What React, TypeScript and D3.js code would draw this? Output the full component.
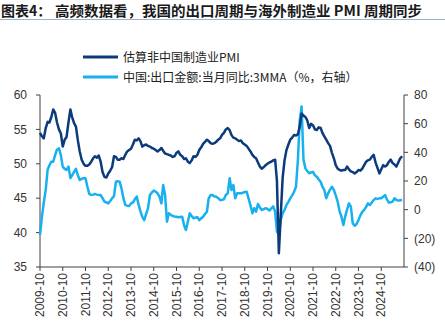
import React from "react";
import * as d3 from "d3";

// 估算非中国制造业PMI (monthly, 2009-10 .. 2025-09)
const pmi: number[] = [
  54.5, 54.0, 53.7, 55.2, 56.1, 56.0, 56.8, 57.9, 57.4, 56.0, 55.0, 54.4,
  52.5, 53.5, 53.9, 56.0, 57.9, 56.8, 55.9, 55.4, 53.4, 51.8, 50.6, 50.0,
  49.7, 49.7, 49.9, 50.3, 50.8, 51.1, 50.9, 51.2, 50.3, 48.8, 48.1, 48.0,
  48.6, 49.0, 49.5, 51.1, 51.0, 50.6, 50.6, 50.8, 50.7, 51.3, 51.8, 52.0,
  52.2, 52.8, 53.5, 53.4, 53.7, 53.3, 52.5, 52.7, 52.8, 52.6, 52.5, 52.3,
  52.2, 52.0, 51.8, 52.0, 52.3, 51.9, 51.5, 51.4, 51.3, 51.2, 51.0, 51.1,
  51.6, 51.8, 51.3, 51.1, 50.7, 50.8, 50.3, 50.1, 50.5, 51.1, 51.0, 51.3,
  52.0, 52.4, 52.9, 53.2, 53.5, 53.3, 53.0, 52.9, 53.0, 53.2, 53.5, 53.7,
  54.2, 54.5, 55.0, 55.2, 54.9, 54.2, 53.8, 53.7, 53.5, 53.3, 53.4, 53.0,
  52.8, 52.6, 52.2, 51.8, 51.3, 51.0, 50.8, 50.2, 49.6, 49.3, 49.5, 49.8,
  50.0, 50.2, 50.3, 50.5, 50.6, 47.5, 37.0, 42.5, 48.0, 50.5, 52.0, 52.8,
  53.5, 53.8, 54.2, 54.1, 54.3, 55.4, 57.3, 57.0, 56.8, 56.3, 55.2, 55.8,
  55.6, 55.0, 54.9, 55.3, 55.2, 54.5, 54.0, 53.5, 53.0, 52.6, 51.6, 50.8,
  49.8, 49.3, 49.1, 49.0, 49.1, 49.1, 49.6, 49.2, 48.9, 48.8, 48.6, 48.8,
  49.1, 49.0, 49.3, 49.8, 50.3, 50.5, 50.6, 51.0, 51.3, 50.2, 49.4, 48.6,
  49.2, 49.8, 49.6, 49.8, 50.3, 50.6, 50.1, 49.9, 49.6, 50.2, 50.8, 51.1,
];

// 中国:出口金额:当月同比:3MMA (%, right axis)
const exportsYoY: number[] = [
  -17.5, -5, 5, 14, 28, 31, 33.5, 33.5, 38, 42, 42.8, 38,
  30, 28.5, 27.7, 30, 22, 24, 26.4, 28.5, 24, 20.7, 21.5, 22,
  21.9, 16, 11, 10.2, 10.5, 10.9, 10.5, 10.2, 10.2, 8, 5.6, 5.0,
  4.4, 6, 7.9, 9.5, 19.5, 19.8, 19.5, 15, 8, 3.3, 2.8, 2.6,
  4.4, 5, 7.2, 9.1, 3.3, -1, -5, -7.3, -3, 1, 10.2, 12,
  13.3, 12.5, 11.4, 9.1, 4.4, 17.2, 10.2, -8.4, -2.5, -3.5, -4.4, -4.8,
  -5, -5.3, -5.1, -4.9, -11, -14.2, -8.4, -2.5, -4.5, -6, -5.5, -5.3,
  -7.3, -6, -4.9, -3, -1.4, 7.9, 10.2, 10.2, 9.1, 9.1, 8, 6.7,
  6.8, 7.2, 10.2, 11.4, 22, 13.7, 17.2, 7.9, 11.4, 11.4, 11.4, 11.8,
  12.3, 12.5, 7.9, 3, -2.5, 1, -1.4, 4, 1.5, -0.2, 0.3, 1,
  0.5, -0.6, 0.8, 2.3, -1.4, -15.4, -17, -7.3, -2.5, -0.2, 3.3, 5.5,
  7.9, 10, 12.5, 16, 35, 62, 72, 35, 28.8, 27, 25.4, 26,
  26.4, 24, 23, 21, 19.5, 16, 13.7, 7.9, 11.4, 14, 16, 13.7,
  10, 5.6, -1, -4.9, -10.7, -4.9, 0, 4.4, 2.1, -9.6, -11.2, -10,
  -7.3, -4, -1.5, -0.2, 2, 4.4, 3.3, 5, 6.7, 7.9, 7.5, 7.9,
  7.9, 9, 10.2, 7, 4.9, 5.2, 5.6, 7.9, 6.8, 6.3, 6.5, 6.7,
];

const leftTicks: number[] = [35, 40, 45, 50, 55, 60];
const rightTicks: number[] = [-40, -20, 0, 20, 40, 60, 80];
const xTickLabels: string[] = [
  "2009-10", "2010-10", "2011-10", "2012-10", "2013-10", "2014-10", "2015-10", "2016-10",
  "2017-10", "2018-10", "2019-10", "2020-10", "2021-10", "2022-10", "2023-10", "2024-10",
];
const legendLabels: string[] = ["估算非中国制造业PMI", "中国:出口金额:当月同比:3MMA（%，右轴）"];
const titleLead = "图表4：";
const titleRest = "高频数据看，我国的出口周期与海外制造业 PMI 周期同步";

const DARK = "#0c3b7c";
const LIGHT = "#18b0ef";
const AXIS = "#404040";
const FONT = "'Liberation Sans', Arial, sans-serif";
const CJK = "'Noto Sans CJK SC', 'Liberation Sans', sans-serif";

export default function App() {
  const W = 445, H = 326;
  const left = 40, right = 404, top = 95, bottom = 267;

  const monthDate = (i: number) => new Date(2009, 9 + i, 1);
  const x = d3.scaleTime().domain([new Date(2009, 9, 1), new Date(2025, 9, 1)]).range([left, right]);
  const yL = d3.scaleLinear().domain([35, 60]).range([bottom, top]);
  const yR = d3.scaleLinear().domain([-40, 80]).range([bottom, top]);

  const lineL = d3.line<number>().x((_, i) => x(monthDate(i))).y((d) => yL(d));
  const lineR = d3.line<number>().x((_, i) => x(monthDate(i))).y((d) => yR(d));

  const xTicks = xTickLabels.map((lab) => {
    const [yy, mm] = lab.split("-").map(Number);
    return { lab, pos: x(new Date(yy, mm - 1, 1)) };
  });

  const fmtR = (v: number) => (v < 0 ? `(${Math.abs(v)})` : `${v}`);

  return (
    <svg width={W} height={H} style={{ position: "absolute", left: 0, top: 0, background: "#fff" }}>
      <rect x={0} y={0} width={W} height={H} fill="#fff" />
      {/* title */}
      <text x={1} y={16} fontFamily={CJK} fontWeight="bold" fontSize={14} fill="#1a1a1a">{titleLead}</text>
      <text x={55} y={16} fontFamily={CJK} fontWeight="bold" fontSize={14} fill="#1a1a1a" textLength={367} lengthAdjust="spacingAndGlyphs">{titleRest}</text>
      <line x1={0} x2={W} y1={19.5} y2={19.5} stroke="#9fb3cc" strokeWidth={1} />

      {/* legend */}
      <line x1={83} x2={118} y1={57} y2={57} stroke={DARK} strokeWidth={3} />
      <text x={123} y={61.5} fontFamily={CJK} fontSize={12} fill="#222">{legendLabels[0]}</text>
      <line x1={83} x2={118} y1={77} y2={77} stroke={LIGHT} strokeWidth={3} />
      <text x={123} y={81.5} fontFamily={CJK} fontSize={12} fill="#222">{legendLabels[1]}</text>

      {/* axes */}
      <line x1={left} x2={left} y1={top} y2={bottom} stroke={AXIS} strokeWidth={1} />
      <line x1={right} x2={right} y1={top} y2={bottom} stroke={AXIS} strokeWidth={1} />
      <line x1={left} x2={right} y1={bottom} y2={bottom} stroke={AXIS} strokeWidth={1} />
      {leftTicks.map((t) => (
        <g key={"l" + t}>
          <line x1={left - 4} x2={left} y1={yL(t)} y2={yL(t)} stroke={AXIS} />
          <text x={27} y={yL(t)} dy="0.35em" textAnchor="end" fontFamily={FONT} fontSize={12} fill="#333">{t}</text>
        </g>
      ))}
      {rightTicks.map((t) => (
        <g key={"r" + t}>
          <line x1={right} x2={right + 4} y1={yR(t)} y2={yR(t)} stroke={AXIS} />
          <text x={414} y={yR(t)} dy="0.35em" textAnchor="start" fontFamily={FONT} fontSize={12} fill="#333">{fmtR(t)}</text>
        </g>
      ))}
      {xTicks.map((t) => (
        <g key={t.lab}>
          <line x1={t.pos} x2={t.pos} y1={bottom} y2={bottom + 4} stroke={AXIS} />
          <text transform={`translate(${t.pos},${bottom + 6}) rotate(-90)`} dy="0.35em" textAnchor="end" fontFamily={FONT} fontSize={12} fill="#333">{t.lab}</text>
        </g>
      ))}

      {/* series */}
      <path d={lineR(exportsYoY) || ""} fill="none" stroke={LIGHT} strokeWidth={2.5} strokeLinejoin="round" />
      <path d={lineL(pmi) || ""} fill="none" stroke={DARK} strokeWidth={2.5} strokeLinejoin="round" />
    </svg>
  );
}
